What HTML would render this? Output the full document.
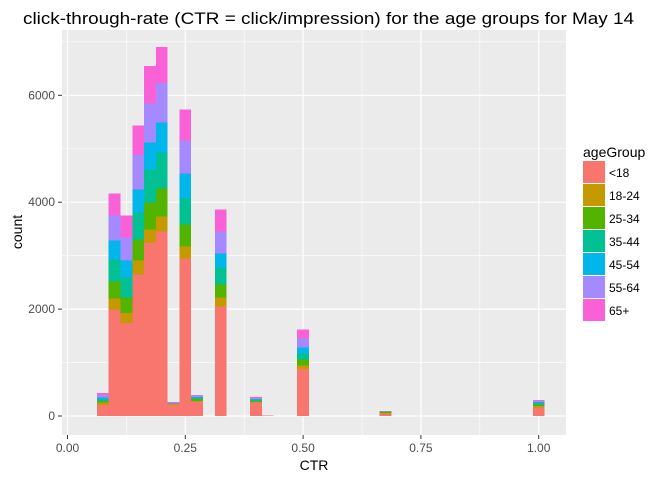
<!DOCTYPE html>
<html><head><meta charset="utf-8"><style>
body{margin:0;background:#fff;font-family:"Liberation Sans",Arial,sans-serif}
</style></head><body>
<svg id="chart" width="672" height="480" xmlns="http://www.w3.org/2000/svg">
<rect x="0" y="0" width="672" height="480" fill="#fff"/>
<rect x="62" y="30" width="504" height="405" fill="#ebebeb"/>
<g id="grid"></g>
<g id="bars" shape-rendering="crispEdges"></g>
<g id="axes"></g>
<text x="23" y="24" font-size="16.5" textLength="611" lengthAdjust="spacingAndGlyphs" fill="#000">click-through-rate (CTR = click/impression) for the age groups for May 14</text>
<text x="314" y="470" font-size="14" text-anchor="middle" fill="#000">CTR</text>
<text x="22" y="232" font-size="14" text-anchor="middle" fill="#000" transform="rotate(-90 22 232)">count</text>
<g id="legend">
<text x="583" y="157" font-size="14" fill="#000">ageGroup</text>
</g>
</svg>
<script>
const binCenters=[0.075,0.1,0.125,0.15,0.175,0.2,0.225,0.25,0.275,0.325,0.4,0.425,0.5,0.675,1.0];
const groups=["<18","18-24","25-34","35-44","45-54","55-64","65+"];
const colors=["#f8766d","#c49a00","#53b400","#00c094","#00b6eb","#a58aff","#fb61d7"];
const s_lt18=[206,1994,1744,2644,3244,3450,210,2944,269,2044,250,10,881,45,163];
const s_18_24=[44,200,187,262,244,281,10,225,15,175,15,0,63,15,25];
const s_25_34=[31,325,288,400,506,525,5,412,30,237,20,0,112,20,30];
const s_35_44=[32,412,375,500,619,675,5,488,25,325,15,0,113,5,20];
const s_45_54=[31,350,312,432,506,563,5,469,15,263,15,0,112,3,25];
const s_55_64=[50,469,432,643,731,737,10,618,25,412,15,0,169,3,15];
const s_65p=[37,413,412,557,694,669,20,582,15,407,26,0,169,3,25];
const series=[s_lt18,s_18_24,s_25_34,s_35_44,s_45_54,s_55_64,s_65p];
const binWidth=0.025;
const xTicks=[0,0.25,0.5,0.75,1.0];
const xTickLabels=["0.00","0.25","0.50","0.75","1.00"];
const yTicks=[0,2000,4000,6000];
const yTickLabels=["0","2000","4000","6000"];
const X=v=>67.5+v*471.2;
const Y=v=>416-v*(320.7/6000);
const NS="http://www.w3.org/2000/svg";
function mk(tag,attrs,parent){const e=document.createElementNS(NS,tag);for(const k in attrs)e.setAttribute(k,attrs[k]);parent.appendChild(e);return e;}
const grid=document.getElementById('grid'),bars=document.getElementById('bars'),axes=document.getElementById('axes'),legend=document.getElementById('legend');
for(let i=0;i<xTicks.length-1;i++){const v=(xTicks[i]+xTicks[i+1])/2;const l=mk('line',{x1:X(v),x2:X(v),y1:30,y2:435,stroke:'#fff','stroke-width':0.6},grid);

}
for(let i=0;i<yTicks.length;i++){const v=yTicks[i]+1000;const l=mk('line',{x1:62,x2:566,y1:Y(v),y2:Y(v),stroke:'#fff','stroke-width':0.6},grid);

}
xTicks.forEach((v,i)=>{const l=mk('line',{x1:X(v),x2:X(v),y1:30,y2:435,stroke:'#fff','stroke-width':1.2},grid);


const t=mk('line',{x1:X(v),x2:X(v),y1:435,y2:439,stroke:'#333','stroke-width':1},axes);


const tx=mk('text',{x:X(v),y:452,'font-size':12,'text-anchor':'middle',fill:'#4d4d4d'},axes);tx.textContent=xTickLabels[i];

});
yTicks.forEach((v,i)=>{const l=mk('line',{x1:62,x2:566,y1:Y(v),y2:Y(v),stroke:'#fff','stroke-width':1.2},grid);


const t=mk('line',{x1:58,x2:62,y1:Y(v),y2:Y(v),stroke:'#333','stroke-width':1},axes);


const tx=mk('text',{x:55,y:Y(v)+4,'font-size':12,'text-anchor':'end',fill:'#4d4d4d'},axes);tx.textContent=yTickLabels[i];

});
binCenters.forEach((c,b)=>{let cum=0;series.forEach((s,g)=>{const v=s[b];if(v<=0)return;const y0=Y(cum),y1=Y(cum+v);cum+=v;
const r=mk('rect',{x:X(c-binWidth/2),y:y1,width:X(c+binWidth/2)-X(c-binWidth/2),height:y0-y1,fill:colors[g]},bars);

});});
groups.forEach((g,i)=>{const y=161+i*23;const r=mk('rect',{x:583,y:y,width:22,height:22,fill:colors[i]},legend);


const t=mk('text',{x:609,y:y+16,'font-size':12,fill:'#000'},legend);t.textContent=g;

});
</script>
</body></html>
